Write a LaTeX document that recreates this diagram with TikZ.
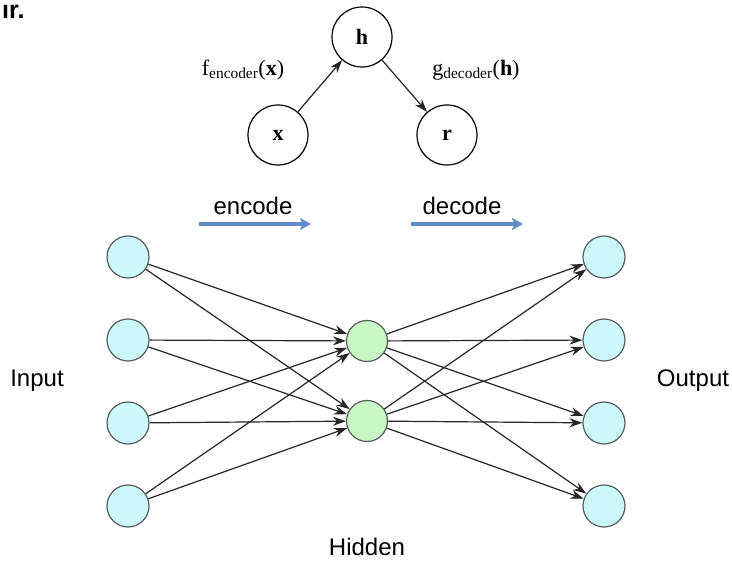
\documentclass[tikz,border=0pt]{standalone}
\usepackage{fontspec}
\setmainfont{Liberation Sans}
\newfontfamily\timesfont{Liberation Serif}
\usetikzlibrary{arrows.meta}
\definecolor{incyan}{RGB}{204,247,251}
\definecolor{hidgreen}{RGB}{200,246,196}
\definecolor{rimgray}{RGB}{85,95,95}
\definecolor{flowblue}{RGB}{94,142,196}
\tikzset{
  unit/.style={circle, draw=rimgray, line width=1.2pt, minimum size=42pt, inner sep=0pt},
  inunit/.style={unit, fill=incyan},
  hidunit/.style={unit, fill=hidgreen, minimum size=41pt},
  varnode/.style={circle, draw=black, line width=1.2pt, minimum size=60pt, inner sep=0pt,
    font=\timesfont\fontsize{22}{24}\selectfont\bfseries},
  link/.style={line width=1.2pt, draw=black!85, -{Stealth[length=13pt,width=9pt]}},
  flow/.style={line width=3.3pt, draw=flowblue, -{Stealth[length=11pt,width=12pt,inset=2.5pt]}},
  lbl/.style={font=\fontsize{24}{26}\selectfont, inner sep=0pt},
  fn/.style={font=\timesfont\fontsize{22}{24}\selectfont, inner sep=0pt}
}
\begin{document}
\begin{tikzpicture}[x=1pt, y=-1pt]
\useasboundingbox (0,0) rectangle (732,564);
\fill[white] (0,0) rectangle (732,564);
% heading fragment in the corner
\node[anchor=north west, inner sep=0pt, font=\fontsize{25}{27}\selectfont\bfseries] (head) at (2,5) {ır.};

% encoder / decoder graph
\node[varnode] (h) at (362,37) {h};
\node[varnode] (x) at (278,135) {x};
\node[varnode] (r) at (447,135) {r};
\draw[link] (x) -- (h);
\draw[link] (h) -- (r);
\node[fn] (fenc) at (243,70) {f\textsubscript{encoder}(\textbf{x})};
\node[fn] (gdec) at (476,70) {g\textsubscript{decoder}(\textbf{h})};

% direction arrows
\coordinate (e0) at (199,224); \coordinate (e1) at (311,224);
\coordinate (d0) at (411,224); \coordinate (d1) at (523,224);
\draw[flow] (e0) -- (e1);
\draw[flow] (d0) -- (d1);
\node[lbl] (enc) at (253,206) {encode};
\node[lbl] (dec) at (462,206) {decode};

% network layers
\foreach \i/\yy in {1/257, 2/340, 3/423, 4/506} {
  \node[inunit] (in\i) at (128,\yy) {};
  \node[inunit] (out\i) at (604,\yy) {};
}
\node[hidunit] (hid1) at (367,341) {};
\node[hidunit] (hid2) at (367,421) {};

\foreach \i in {1,...,4} {
  \foreach \j in {1,2} {
    \draw[link] (in\i) -- (hid\j);
    \draw[link] (hid\j) -- (out\i);
  }
}

\node[lbl] (inlbl) at (37,381) {Input};
\node[lbl] (outlbl) at (693,381) {Output};
\node[lbl] (hidlbl) at (367,547) {Hidden};
\end{tikzpicture}
\end{document}
